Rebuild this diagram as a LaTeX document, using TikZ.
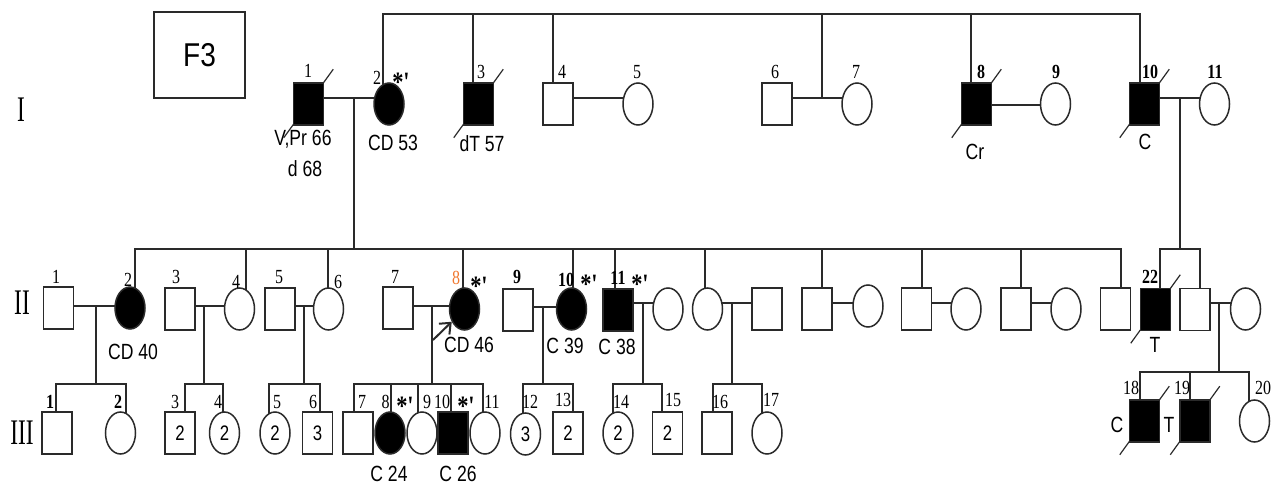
\documentclass[tikz,border=0pt]{standalone}
\usepackage{fontspec}
\setmainfont{Liberation Serif}
\newfontfamily\numf[FakeStretch=0.8]{Liberation Serif}
\newfontfamily\labf[FakeStretch=0.8]{Liberation Sans}
\newfontfamily\romf[FakeStretch=0.65]{Liberation Serif}
\newfontfamily\ffont[FakeStretch=0.85]{Liberation Sans}
\usetikzlibrary{shapes.geometric,backgrounds,calc,arrows.meta}
\definecolor{ln}{HTML}{2A2A2A}
\definecolor{orng}{HTML}{F07830}
\tikzset{
 base/.style={draw=ln, line width=1.5pt, fill=white, inner sep=0pt, minimum width=30pt, minimum height=42pt},
 male/.style={base, rectangle},
 female/.style={base, ellipse},
 aff/.style={fill=black},
 conn/.style={draw=ln, line width=1.5pt},
 num/.style={font=\numf\fontsize{20}{20}\selectfont, inner sep=0pt},
 bnum/.style={font=\numf\bfseries\fontsize{20}{20}\selectfont, inner sep=0pt},
 lab/.style={font=\labf\fontsize{22}{22}\selectfont, inner sep=0pt},
 inlab/.style={font=\labf\fontsize{21}{21}\selectfont},
 star/.style={font=\numf\bfseries\fontsize{28}{28}\selectfont, inner sep=0pt},
 gen/.style={font=\romf\fontsize{36}{36}\selectfont, inner sep=0pt},
 dec/.style={draw=ln, line width=1.2pt},
}
\newcommand\deceased[1]{\draw[dec] ($(#1.south west)+(-9,12)$) -- ($(#1.north east)+(9,-13)$);}
\begin{document}
\begin{tikzpicture}[x=1pt,y=-1pt]
\useasboundingbox (0,0) rectangle (1279,486);
% title box
\node[draw=ln, line width=1.5pt, minimum width=91pt, minimum height=86pt, inner sep=0pt, font=\ffont\fontsize{33}{33}\selectfont] (F3) at (199.5,55) {F3};
% generation labels
\node[gen] (gI) at (21,110) {I};
\node[gen] (gII) at (22,303) {II};
\node[gen] (gIII) at (22,433) {III};
% ---------- Generation I ----------
\node[male,aff] (I1) at (308.5,104) {};
\node[female,aff] (I2) at (389,104) {};
\node[male,aff] (I3) at (478.5,104) {};
\node[male] (I4) at (558,104) {};
\node[female] (I5) at (638,104) {};
\node[male] (I6) at (777,104) {};
\node[female] (I7) at (857,104) {};
\node[male,aff] (I8) at (976.5,104) {};
\node[female] (I9) at (1055.5,104) {};
\node[male,aff] (I10) at (1144.5,104) {};
\node[female] (I11) at (1214.5,104) {};
% ---------- Generation II ----------
\node[male] (II1) at (58.5,308) {};
\node[female,aff] (II2) at (130,308) {};
\node[male] (II3) at (180,309) {};
\node[female] (II4) at (239.5,309) {};
\node[male] (II5) at (280,309) {};
\node[female] (II6) at (328.5,309) {};
\node[male] (II7) at (398,308) {};
\node[female,aff] (II8) at (464.5,309) {};
\node[male] (II9) at (518,310) {};
\node[female,aff] (II10) at (571.5,309) {};
\node[male,aff] (II11) at (618,310) {};
\node[female] (S11) at (668,309) {};
\node[female] (II12) at (707.5,309) {};
\node[male] (II13) at (767,309) {};
\node[male] (II14) at (817,309) {};
\node[female] (II15) at (868,306) {};
\node[male] (II16) at (916.5,309) {};
\node[female] (II17) at (966,309) {};
\node[male] (II18) at (1016,309) {};
\node[female] (II19) at (1066,309) {};
\node[male] (II20) at (1115.5,309) {};
\node[male,aff] (II22) at (1155.5,309.5) {};
\node[male] (II23) at (1195,309.5) {};
\node[female] (II24) at (1245.5,309) {};
% ---------- Generation III ----------
\node[male] (III1) at (57,433) {};
\node[female] (III2) at (120.5,433) {};
\node[male,inlab] (III3) at (180,433) {2};
\node[female,inlab] (III4) at (224.5,433) {2};
\node[female,inlab] (III5) at (275,433) {2};
\node[male,inlab] (III6) at (317.5,433) {3};
\node[male] (III7) at (358,433) {};
\node[female,aff] (III8) at (390,433) {};
\node[female] (III9) at (422,433) {};
\node[male,aff] (III10) at (453,433) {};
\node[female] (III11) at (485,433) {};
\node[female,inlab] (III12) at (525.5,434) {3};
\node[male,inlab] (III13) at (568,433) {2};
\node[female,inlab] (III14) at (618,433) {2};
\node[male,inlab] (III15) at (667.5,433) {2};
\node[male] (III16) at (717,433) {};
\node[female] (III17) at (767,433) {};
\node[male,aff] (III18) at (1144.5,421) {};
\node[male,aff] (III19) at (1195,421) {};
\node[female] (III20) at (1254.5,421) {};
% ---------- junction coordinates ----------
\coordinate (top) at (760,14);
\coordinate (u12) at (354,98);   \coordinate (s12) at (354,249);
\coordinate (u45) at (598,98);
\coordinate (u67) at (822,98);
\coordinate (u89) at (1016,105);
\coordinate (u1011) at (1180,98); \coordinate (s1011) at (1180,249);
\coordinate (v12) at (96,306);   \coordinate (t12) at (96,384);
\coordinate (v34) at (204,306);  \coordinate (t34) at (204,384);
\coordinate (v56) at (304,306);  \coordinate (t56) at (304,384);
\coordinate (v78) at (432,306);  \coordinate (t78) at (432,384);
\coordinate (v910) at (543,307); \coordinate (t910) at (543,384);
\coordinate (v11) at (643,303);  \coordinate (t11) at (643,384);
\coordinate (v1213) at (732,303); \coordinate (t1213) at (732,384);
\coordinate (v1415) at (842,303);
\coordinate (v1617) at (941,303);
\coordinate (v1819) at (1041,303);
\coordinate (v2324) at (1219,303); \coordinate (t2324) at (1219,372);
\coordinate (arr) at (433,340);
% ---------- connectors ----------
\begin{scope}[on background layer]
\draw[conn] ([xshift=-6]I2.center) |- (top);
\draw[conn] ([xshift=-5.5]I3.center) |- (top);
\draw[conn] ([xshift=-5]I4.center) |- (top);
\draw[conn] (u67) |- (top);
\draw[conn] ([xshift=-5.5]I8.center) |- (top);
\draw[conn] ([xshift=-4.5]I10.center) |- (top);
% marriages gen I
\draw[conn] (I1.center |- u12) -- (I2.center |- u12);
\draw[conn] (I4.center |- u45) -- (I5.center |- u45);
\draw[conn] (I6.center |- u67) -- (I7.center |- u67);
\draw[conn] (I8.center |- u89) -- (I9.center |- u89);
\draw[conn] (I10.center |- u1011) -- (I11.center |- u1011);
\draw[conn] (u12) -- (s12);
\draw[conn] (u1011) -- (s1011);
% sibship gen II
\foreach \n/\d in {II2/5,II4/6.5,II6/-0.5,II8/-1.5,II10/1.5,II11/-3,II12/-2.5,II14/5,II16/5.5,II18/5,II20/5.5}
  \draw[conn] ([xshift=\d]\n.center) |- (s12);
\foreach \n/\d in {II22/4.5,II23/5}
  \draw[conn] ([xshift=\d]\n.center) |- (s1011);
% marriages gen II
\draw[conn] (II1.center |- v12) -- (II2.center |- v12);
\draw[conn] (II3.center |- v34) -- (II4.center |- v34);
\draw[conn] (II5.center |- v56) -- (II6.center |- v56);
\draw[conn] (II7.center |- v78) -- (II8.center |- v78);
\draw[conn] (II9.center |- v910) -- (II10.center |- v910);
\draw[conn] (II11.center |- v11) -- (S11.center |- v11);
\draw[conn] (II12.center |- v1213) -- (II13.center |- v1213);
\draw[conn] (II14.center |- v1415) -- (II15.center |- v1415);
\draw[conn] (II16.center |- v1617) -- (II17.center |- v1617);
\draw[conn] (II18.center |- v1819) -- (II19.center |- v1819);
\draw[conn] (II23.center |- v2324) -- (II24.center |- v2324);
\draw[conn] (v12) -- (t12);
\draw[conn] (v34) -- (t34);
\draw[conn] (v56) -- (t56);
\draw[conn] (v78) -- (t78);
\draw[conn] (v910) -- (t910);
\draw[conn] (v11) -- (t11);
\draw[conn] (v1213) -- (t1213);
\draw[conn] (v2324) -- (t2324);
% sibship gen III
\foreach \n/\d in {III1/-1,III2/5.5} \draw[conn] ([xshift=\d]\n.center) |- (t12);
\foreach \n/\d in {III3/5,III4/-1.5} \draw[conn] ([xshift=\d]\n.center) |- (t34);
\foreach \n/\d in {III5/-6,III6/2.5} \draw[conn] ([xshift=\d]\n.center) |- (t56);
\foreach \n/\d in {III7/-4,III8/1,III9/-4,III10/-2,III11/-2} \draw[conn] ([xshift=\d]\n.center) |- (t78);
\foreach \n/\d in {III12/-2.5,III13/5} \draw[conn] ([xshift=\d]\n.center) |- (t910);
\foreach \n/\d in {III14/-5,III15/-5.5} \draw[conn] ([xshift=\d]\n.center) |- (t11);
\foreach \n/\d in {III16/-4,III17/-5} \draw[conn] ([xshift=\d]\n.center) |- (t1213);
\foreach \n/\d in {III18/-4.5,III19/-5,III20/-5.5} \draw[conn] ([xshift=\d]\n.center) |- (t2324);
% deceased marks (hidden inside the symbols)
\deceased{I1}\deceased{I3}\deceased{I8}\deceased{I10}
\deceased{II22}\deceased{III18}\deceased{III19}
\end{scope}
% proband arrow
\draw[draw=ln, line width=2pt, -{Straight Barb[length=9pt,width=15pt,line width=2pt]}] (arr) -- (II8.-135);
% ---------- numbers ----------
\node[num] (nI1) at (308,71) {1};
\node[num] (nI2) at (377,78) {2};
\node[star] (sI2) at (401,82) {*'};
\node[num] (nI3) at (481,72) {3};
\node[num] (nI4) at (562,72) {4};
\node[num] (nI5) at (637,72) {5};
\node[num] (nI6) at (775,72) {6};
\node[num] (nI7) at (856,72) {7};
\node[bnum] (nI8) at (981,72) {8};
\node[bnum] (nI9) at (1056,72) {9};
\node[bnum] (nI10) at (1150,72) {10};
\node[bnum] (nI11) at (1215,72) {11};
\node[num] (nII1) at (56,277) {1};
\node[num] (nII2) at (128,280) {2};
\node[num] (nII3) at (176,277) {3};
\node[num] (nII4) at (236,282) {4};
\node[num] (nII5) at (279,277) {5};
\node[num] (nII6) at (338,282) {6};
\node[num] (nII7) at (395,277) {7};
\node[num, text=orng] (nII8) at (456,278) {8};
\node[star] (sII8) at (479,286) {*'};
\node[bnum] (nII9) at (517,277) {9};
\node[bnum] (nII10) at (566,280) {10};
\node[star] (sII10) at (589,284) {*'};
\node[bnum] (nII11) at (618,278) {11};
\node[star] (sII11) at (640,284) {*'};
\node[bnum] (nII22) at (1150,277) {22};
\node[bnum] (nIII1) at (50,402) {1};
\node[bnum] (nIII2) at (118,402) {2};
\node[num] (nIII3) at (175,402) {3};
\node[num] (nIII4) at (218,402) {4};
\node[num] (nIII5) at (277,402) {5};
\node[num] (nIII6) at (313,402) {6};
\node[num] (nIII7) at (362,402) {7};
\node[num] (nIII8) at (385.5,402) {8};
\node[star] (sIII8) at (405,406) {*'};
\node[num] (nIII9) at (427,402) {9};
\node[num] (nIII10) at (442,402) {10};
\node[star] (sIII10) at (466,406) {*'};
\node[num] (nIII11) at (492,402) {11};
\node[num] (nIII12) at (530,402) {12};
\node[num] (nIII13) at (563,400) {13};
\node[num] (nIII14) at (621,402) {14};
\node[num] (nIII15) at (673,400) {15};
\node[num] (nIII16) at (720,402) {16};
\node[num] (nIII17) at (771,400) {17};
\node[num] (nIII18) at (1131,388) {18};
\node[num] (nIII19) at (1182,388) {19};
\node[num] (nIII20) at (1263,388) {20};
% ---------- labels ----------
\node[lab] (lI1a) at (303,139) {V,Pr 66};
\node[lab] (lI1b) at (305,169) {d 68};
\node[lab] (lI2) at (393,143) {CD 53};
\node[lab] (lI3) at (482,144) {dT 57};
\node[lab] (lI8) at (975,152) {Cr};
\node[lab] (lI10) at (1145,142) {C};
\node[lab] (lII2) at (133,352) {CD 40};
\node[lab] (lII8) at (469,345) {CD 46};
\node[lab] (lII10) at (565,346) {C 39};
\node[lab] (lII11) at (617,347) {C 38};
\node[lab] (lII22) at (1155,345) {T};
\node[lab] (lIII8) at (389,474) {C 24};
\node[lab] (lIII10) at (458,474) {C 26};
\node[lab] (lIII18) at (1117,425) {C};
\node[lab] (lIII19) at (1169,425) {T};
\end{tikzpicture}
\end{document}
